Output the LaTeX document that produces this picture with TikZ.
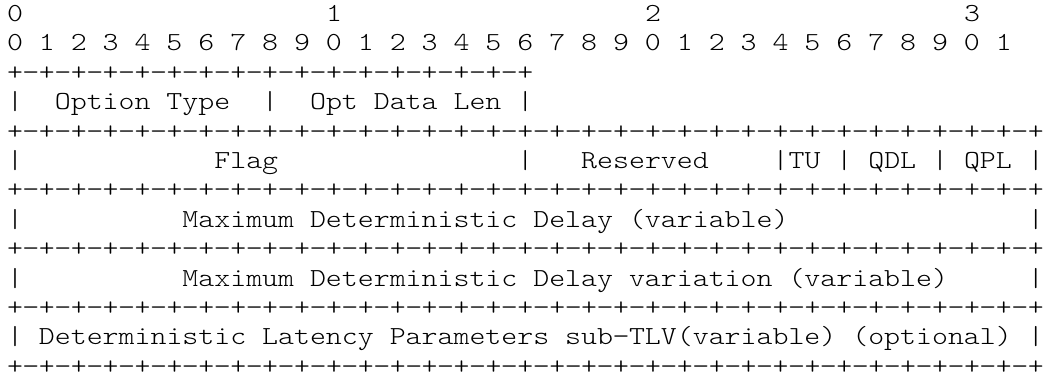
\documentclass[tikz,border=0pt]{standalone}
\usepackage{fontspec}
\newfontfamily\asciifont{lmmonolt10-regular.otf}[FakeStretch=1.1685]
% one row of bit separators: 8 cells of "+−"
\newcommand\bitoctet{+−+−+−+−+−+−+−+−}
\begin{document}
\begin{tikzpicture}[
  x=1pt, y=1pt,
  txt/.style={anchor=base west, inner sep=0pt, outer sep=0pt,
    font=\asciifont\fontsize{26}{29.4}\selectfont, text=black}
]
\useasboundingbox[fill=white] (0,0) rectangle (1044,-377);
% \seg{name}{row}{column}{text}: text placed on the character grid
\newcommand\seg[4]{\node[txt] (#1) at ({7+15.95*#3}, {-21.5-29.4*(#2-1)}) {#4};}

% bit ruler
\seg{t0}{1}{0}{0}
\seg{t1}{1}{20}{1}
\seg{t2}{1}{40}{2}
\seg{t3}{1}{60}{3}
\seg{bits}{2}{0}{0 1 2 3 4 5 6 7 8 9 0 1 2 3 4 5 6 7 8 9 0 1 2 3 4 5 6 7 8 9 0 1}

% option header
\seg{r3}{3}{0}{\bitoctet\bitoctet+}
\seg{b4a}{4}{0}{|}
\seg{otype}{4}{3}{Option Type}
\seg{b4b}{4}{16}{|}
\seg{olen}{4}{19}{Opt Data Len}
\seg{b4c}{4}{32}{|}

% flags word
\seg{r5}{5}{0}{\bitoctet\bitoctet\bitoctet\bitoctet+}
\seg{b6a}{6}{0}{|}
\seg{flag}{6}{13}{Flag}
\seg{b6b}{6}{32}{|}
\seg{resv}{6}{36}{Reserved}
\seg{tu}{6}{48}{|TU}
\seg{b6c}{6}{52}{|}
\seg{qdl}{6}{54}{QDL}
\seg{b6d}{6}{58}{|}
\seg{qpl}{6}{60}{QPL}
\seg{b6e}{6}{64}{|}

% variable-length fields
\seg{r7}{7}{0}{\bitoctet\bitoctet\bitoctet\bitoctet+}
\seg{b8a}{8}{0}{|}
\seg{mdd}{8}{11}{Maximum Deterministic Delay (variable)}
\seg{b8b}{8}{64}{|}
\seg{r9}{9}{0}{\bitoctet\bitoctet\bitoctet\bitoctet+}
\seg{b10a}{10}{0}{|}
\seg{mddv}{10}{11}{Maximum Deterministic Delay variation (variable)}
\seg{b10b}{10}{64}{|}
\seg{r11}{11}{0}{\bitoctet\bitoctet\bitoctet\bitoctet+}
\seg{b12a}{12}{0}{|}
\seg{dlp}{12}{2}{Deterministic Latency Parameters sub−TLV(variable) (optional)}
\seg{b12b}{12}{64}{|}
\seg{r13}{13}{0}{\bitoctet\bitoctet\bitoctet\bitoctet+}
\end{tikzpicture}
\end{document}
